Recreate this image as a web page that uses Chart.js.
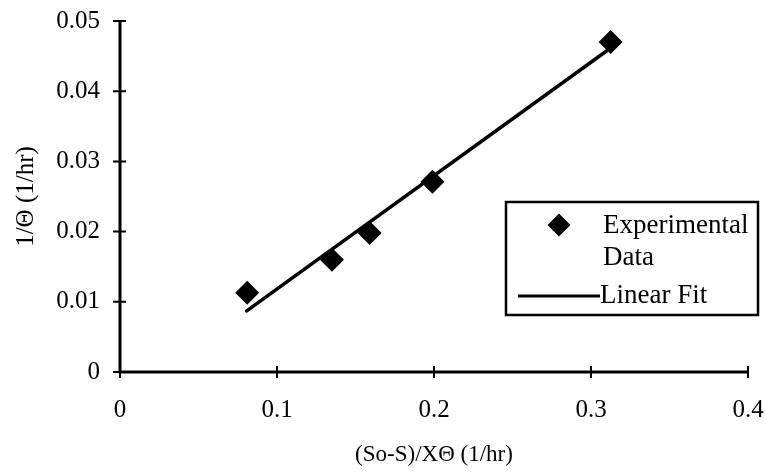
<!DOCTYPE html>
<html>
<head>
<meta charset="utf-8">
<script src="https://cdn.jsdelivr.net/npm/chart.js@4/dist/chart.umd.min.js"></script>
<style>
  html, body { margin: 0; padding: 0; background: #fff; }
  #wrap { width: 766px; height: 472px; }
</style>
</head>
<body>
<div id="wrap"><canvas id="chart" width="766" height="472"></canvas></div>
<script>
// data
const expX = [0.081, 0.135, 0.159, 0.199, 0.3125];
const expY = [0.0113, 0.016, 0.0198, 0.0271, 0.047];
const fitX = [0.0807, 0.311];
const fitY = [0.0087, 0.0459];
const xTicks = ["0", "0.1", "0.2", "0.3", "0.4"];
const yTicks = ["0", "0.01", "0.02", "0.03", "0.04", "0.05"];
const legendLabels = ["Experimental", "Data", "Linear Fit"];

const serif = "'Liberation Serif', 'DejaVu Serif', serif";

const toPoints = (xs, ys) => xs.map((x, i) => ({ x: x, y: ys[i] }));

// axes with tick marks crossing the line, like the original
const axesPlugin = {
  id: "axes",
  afterDatasetsDraw(chart) {
    const ctx = chart.ctx;
    const xs = chart.scales.x;
    const ys = chart.scales.y;
    const x0 = xs.getPixelForValue(0);
    const y0 = ys.getPixelForValue(0);
    ctx.save();
    ctx.strokeStyle = "#000";
    ctx.lineWidth = 3;
    ctx.beginPath();
    ctx.moveTo(x0, ys.getPixelForValue(0.05));
    ctx.lineTo(x0, y0);
    ctx.lineTo(xs.getPixelForValue(0.4), y0);
    ctx.stroke();
    ctx.lineWidth = 2;
    ctx.beginPath();
    xs.ticks.forEach((t) => {
      const px = xs.getPixelForValue(t.value);
      ctx.moveTo(px, y0 - 6);
      ctx.lineTo(px, y0 + 6);
    });
    ys.ticks.forEach((t) => {
      const py = ys.getPixelForValue(t.value);
      ctx.moveTo(x0 - 7, py);
      ctx.lineTo(x0 + 6, py);
    });
    ctx.stroke();
    ctx.restore();
  },
};

// boxed legend sitting inside the plot
const legendPlugin = {
  id: "boxLegend",
  afterDraw(chart) {
    const ctx = chart.ctx;
    ctx.save();
    ctx.strokeStyle = "#000";
    ctx.lineWidth = 2.5;
    ctx.fillStyle = "#fff";
    ctx.fillRect(506, 202, 252, 113);
    ctx.strokeRect(506, 202, 252, 113);

    // diamond
    ctx.fillStyle = "#000";
    ctx.beginPath();
    ctx.moveTo(559, 213.5);
    ctx.lineTo(570.5, 225);
    ctx.lineTo(559, 236.5);
    ctx.lineTo(547.5, 225);
    ctx.closePath();
    ctx.fill();

    // line sample
    ctx.lineWidth = 3;
    ctx.beginPath();
    ctx.moveTo(518, 296);
    ctx.lineTo(600, 296);
    ctx.stroke();

    ctx.font = "27px " + serif;
    ctx.textBaseline = "alphabetic";
    ctx.textAlign = "left";
    ctx.fillText(legendLabels[0], 603, 233);
    ctx.fillText(legendLabels[1], 603, 265);
    ctx.fillText(legendLabels[2], 600, 303);
    ctx.restore();
  },
};

new Chart(document.getElementById("chart"), {
  type: "scatter",
  data: {
    datasets: [
      {
        label: "Experimental Data",
        data: toPoints(expX, expY),
        pointStyle: "rectRot",
        pointRadius: 12,
        pointHoverRadius: 12,
        backgroundColor: "#000",
        borderColor: "#000",
        borderWidth: 0,
        order: 1,
      },
      {
        label: "Linear Fit",
        data: toPoints(fitX, fitY),
        showLine: true,
        pointRadius: 0,
        borderColor: "#000",
        borderWidth: 3.5,
        borderCapStyle: "round",
        order: 2,
      },
    ],
  },
  options: {
    responsive: false,
    animation: false,
    layout: { padding: { top: 21, right: 18, left: 0, bottom: 0 } },
    plugins: {
      legend: { display: false },
      tooltip: { enabled: false },
    },
    scales: {
      x: {
        type: "linear",
        min: 0,
        max: 0.4,
        afterFit: (s) => {
          s.height = 100;
          s.paddingLeft = 0;
          s.paddingRight = 0;
        },
        grid: { display: false, drawTicks: false },
        border: { display: false },
        ticks: {
          stepSize: 0.1,
          padding: 23,
          color: "#000",
          font: { family: serif, size: 25 },
          callback: (v, i) => xTicks[i],
        },
        title: {
          display: true,
          text: "(So-S)/XΘ (1/hr)",
          color: "#000",
          font: { family: serif, size: 23 },
          padding: { top: 0, bottom: 3 },
        },
      },
      y: {
        type: "linear",
        min: 0,
        max: 0.05,
        afterFit: (s) => {
          s.width = 120;
          s.paddingTop = 0;
          s.paddingBottom = 0;
        },
        grid: { display: false, drawTicks: false },
        border: { display: false },
        ticks: {
          stepSize: 0.01,
          padding: 20,
          color: "#000",
          font: { family: serif, size: 25 },
          callback: (v, i) => yTicks[i],
        },
        title: {
          display: true,
          text: "1/Θ (1/hr)",
          color: "#000",
          font: { family: serif, size: 25 },
          padding: { top: 11, bottom: 0 },
        },
      },
    },
  },
  plugins: [axesPlugin, legendPlugin],
});
</script>
</body>
</html>
